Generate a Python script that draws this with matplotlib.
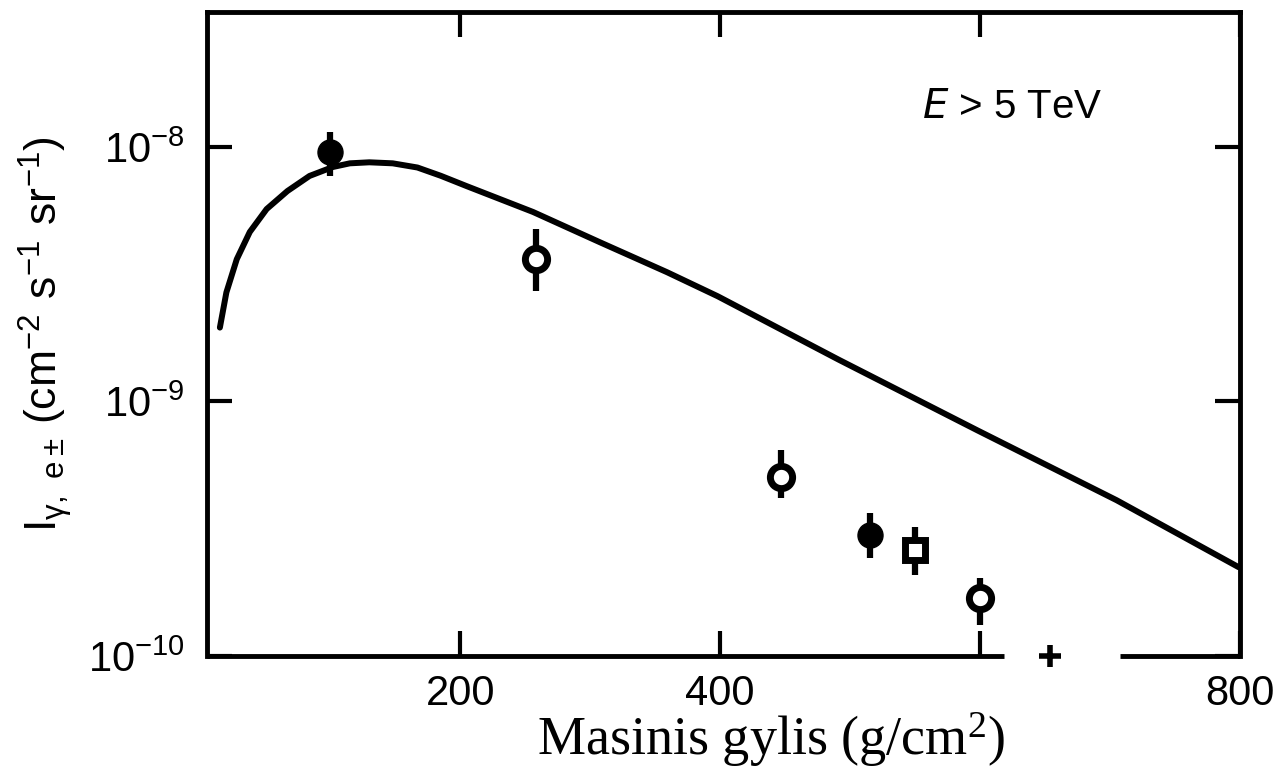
import numpy as np
import matplotlib
matplotlib.use("Agg")
import matplotlib.pyplot as plt

plt.rcParams['font.family'] = ['Liberation Sans', 'DejaVu Sans']
plt.rcParams['mathtext.default'] = 'regular'

# model curve
depth_curve = [15, 20, 28, 38, 51, 67, 84, 102, 115, 130, 148, 167, 185, 205,
               256, 307, 359, 398, 491, 598, 705, 799]
flux_curve = [1.95e-9, 2.68e-9, 3.62e-9, 4.63e-9, 5.70e-9, 6.71e-9, 7.69e-9,
              8.34e-9, 8.62e-9, 8.70e-9, 8.62e-9, 8.30e-9, 7.70e-9, 7.01e-9,
              5.55e-9, 4.23e-9, 3.22e-9, 2.59e-9, 1.46e-9, 7.69e-10,
              4.09e-10, 2.23e-10]

# measured points
filled_x = [100, 515]
filled_y = [9.55e-9, 2.99e-10]
filled_hi = [1.146e-8, 3.64e-10]
filled_lo = [7.69e-9, 2.42e-10]

open_x = [258, 447, 600]
open_y = [3.62e-9, 5.04e-10, 1.69e-10]
open_hi = [4.75e-9, 6.43e-10, 2.02e-10]
open_lo = [2.71e-9, 4.17e-10, 1.32e-10]

square_x = [550]
square_y = [2.61e-10]
square_hi = [3.21e-10]
square_lo = [2.08e-10]

x_ticks = [200, 400, 600, 800]
x_ticklabels = ['200', '400', '', '800']
y_ticks = [1e-10, 1e-9, 1e-8]
y_ticklabels = [r'$10^{-10}$', r'$10^{-9}$', r'$10^{-8}$']


def yerr(y, hi, lo):
    y = np.array(y)
    return [y - np.array(lo), np.array(hi) - y]


fig = plt.figure(figsize=(12.85, 7.78), dpi=100)
ax = fig.add_axes([0.161, 0.157, 0.804, 0.828])

ax.plot(depth_curve, flux_curve, color='black', lw=4.3,
        solid_capstyle='round', solid_joinstyle='round')

ax.errorbar(filled_x, filled_y, yerr=yerr(filled_y, filled_hi, filled_lo),
            fmt='o', ms=18, color='black', ecolor='black', elinewidth=4.5,
            capsize=0, zorder=5)
ax.errorbar(open_x, open_y, yerr=yerr(open_y, open_hi, open_lo),
            fmt='o', ms=16, mfc='white', mec='black', mew=5,
            ecolor='black', elinewidth=4.5, capsize=0, zorder=5)
ax.errorbar(square_x, square_y, yerr=yerr(square_y, square_hi, square_lo),
            fmt='s', ms=14, mfc='white', mec='black', mew=5,
            ecolor='black', elinewidth=4.5, capsize=0, zorder=5)

ax.set_yscale('log')
ax.set_xlim(5, 800)
ax.set_ylim(1e-10, 3.4e-8)

ax.set_xticks(x_ticks)
ax.set_xticklabels(x_ticklabels)
ax.set_yticks(y_ticks)
ax.set_yticklabels(y_ticklabels)
ax.yaxis.set_minor_locator(matplotlib.ticker.NullLocator())
ax.tick_params(axis='both', which='major', direction='in', length=18,
               width=3, labelsize=30, top=True, right=True)
ax.tick_params(axis='x', pad=13)
ax.tick_params(axis='y', pad=16)

for side in ['left', 'right', 'top']:
    ax.spines[side].set_linewidth(3.5)

# broken bottom axis
ax.spines['bottom'].set_visible(False)
tr = ax.get_xaxis_transform()
ax.plot([5, 618], [0, 0], color='black', lw=3.5, transform=tr,
        clip_on=False, solid_capstyle='butt')
ax.plot([708, 800], [0, 0], color='black', lw=3.5, transform=tr,
        clip_on=False, solid_capstyle='butt')
ax.plot([654], [0], marker='+', ms=16, mew=4, color='black', transform=tr,
        clip_on=False)

ax.text(0.78, 0.852, r'$\it{E}$ > 5 TeV', transform=ax.transAxes,
        fontsize=29, ha='center', va='center')

ax.set_ylabel(r'$I_{\gamma,\ e\pm}\,(cm^{-2}\ s^{-1}\ sr^{-1})$', fontsize=32,
              labelpad=10)
ax.set_xlabel(r'Masinis gylis (g/cm$^{2}$)', fontsize=39,
              family='Liberation Serif', labelpad=1)
ax.xaxis.set_label_coords(0.546, -0.085)

fig.savefig('out.png', dpi=100)
